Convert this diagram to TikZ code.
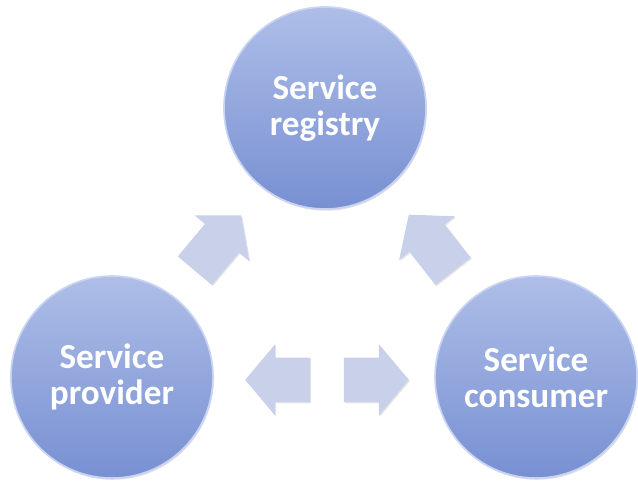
\documentclass[tikz,border=0pt]{standalone}
\usepackage{fontspec}
\setmainfont{Carlito}
\usetikzlibrary{positioning,calc,shapes.arrows,shadows}

\definecolor{ballTop}{HTML}{AEBEE8}
\definecolor{ballBottom}{HTML}{7890D2}
\definecolor{ballRim}{HTML}{C9D4F2}
\definecolor{arrowFill}{HTML}{C8D0EA}

\tikzset{
  ball/.style={circle, minimum size=5.05cm, inner sep=0pt,
    top color=ballTop, bottom color=ballBottom, draw=ballRim, line width=1.2pt,
    drop shadow={opacity=0.25, shadow xshift=0.6pt, shadow yshift=-1.2pt},
    text=white, font=\fontsize{25}{26}\selectfont\bfseries, align=center},
  blockarrow/.style={single arrow, fill=arrowFill, draw=none,
    inner xsep=0pt, inner ysep=0.55cm, text width=0pt,
    minimum height=1.8cm, xshift=-0.25cm,
    single arrow head extend=0.33cm, single arrow tip angle=100,
    drop shadow={opacity=0.2, shadow xshift=0.8pt, shadow yshift=-0.8pt}}
}

\begin{document}
\begin{tikzpicture}
[x=0.025cm,y=-0.025cm,node distance=2cm,on grid]
      \useasboundingbox (0,0) rectangle (638,481);
      \node[ball] (registry) at (325,108) {Service\\registry};
      \node[ball] (provider) [below left=6.725cm and 5.325cm of registry] {Service\\provider};
      \node[ball] (consumer) [below right=6.725cm and 5.275cm of registry] {Service\\consumer};

      % arrows between the balls
      \node[rotate=50, blockarrow]  (toreg)  at ($(provider)!0.5!(registry)$) {};
      \node[rotate=128, blockarrow] (fromcons) at ($(consumer)!0.5!(registry)$) {};
      \node[yshift=-0.07cm, rotate=180, blockarrow, minimum height=1.62cm] (toprov) [right=4.125cm of provider] {};
      \node[yshift=-0.07cm, blockarrow, minimum height=1.62cm] (tocons) [left=3.975cm of consumer] {};
\end{tikzpicture}
\end{document}
